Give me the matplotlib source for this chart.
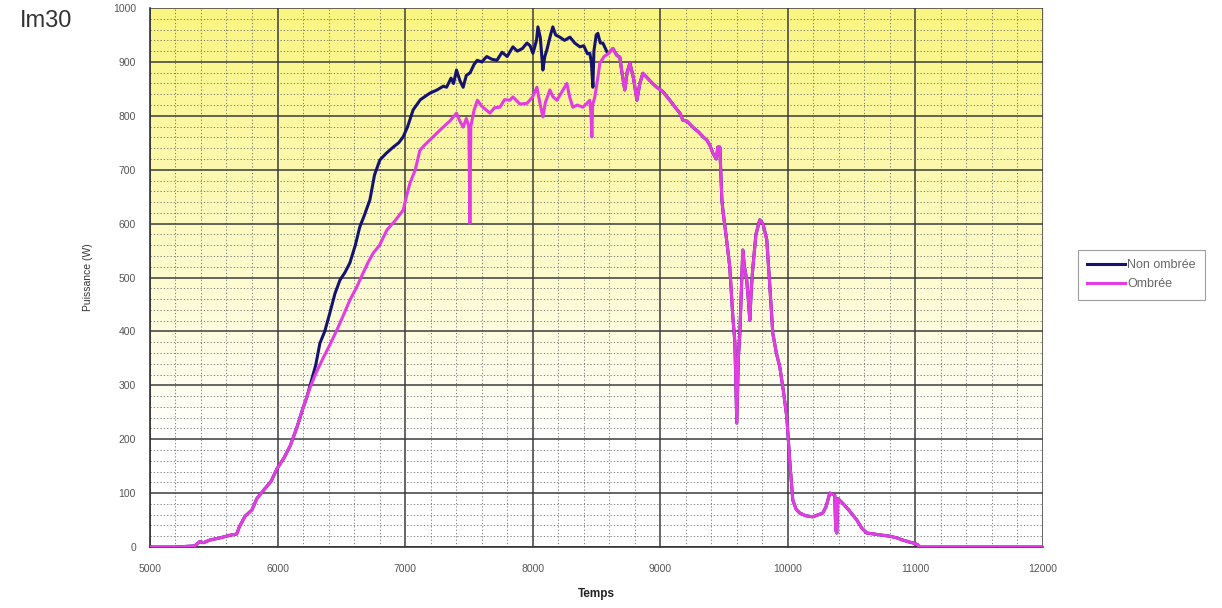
import matplotlib
matplotlib.use('Agg')
from matplotlib import pyplot as plt
from matplotlib.ticker import MultipleLocator
import numpy as np

plt.rcParams['font.family'] = ['Liberation Sans', 'DejaVu Sans']

# common start (both curves identical)
rise_t = [5000, 5200, 5350, 5390, 5420, 5470, 5550, 5630, 5680, 5700, 5745, 5800,
          5838, 5900, 5950, 5995, 6050, 6100, 6152, 6200]
rise_p = [0, 0, 2, 10, 8, 13, 17, 22, 24, 37, 57, 69,
          90, 108, 122, 145, 165, 188, 222, 258]

# middle part, shaded panel
shade_t = [6254, 6300, 6356, 6410, 6466, 6520, 6567, 6620, 6670, 6710, 6749, 6800,
           6857, 6920, 6985, 7010, 7038, 7080, 7116, 7150, 7194, 7250, 7298, 7350,
           7403, 7430, 7455, 7480, 7500, 7508, 7515, 7540, 7567, 7600, 7630, 7665,
           7700, 7743, 7780, 7821, 7845, 7900, 7955, 8000, 8033, 8060, 8080, 8100,
           8135, 8160, 8190, 8230, 8268, 8290, 8315, 8350, 8393, 8420, 8448, 8458,
           8464, 8470, 8487, 8510, 8527, 8560]
shade_p = [295, 322, 350, 375, 403, 432, 458, 482, 508, 528, 545, 560,
           588, 605, 625, 650, 675, 700, 736, 745, 755, 768, 779, 790,
           805, 790, 779, 795, 780, 601, 780, 810, 829, 818, 812, 805,
           815, 816, 830, 829, 835, 822, 823, 835, 853, 820, 798, 825,
           848, 835, 829, 845, 860, 835, 816, 820, 816, 822, 829, 800,
           761, 820, 835, 870, 898, 910]

# middle part, unshaded panel
clear_t = [6230, 6300, 6332, 6370, 6410, 6450, 6489, 6530, 6567, 6610, 6645, 6680,
           6724, 6760, 6802, 6850, 6907, 6950, 6985, 7020, 7063, 7120, 7194, 7250,
           7300, 7325, 7360, 7380, 7403, 7430, 7455, 7480, 7510, 7540, 7565, 7600,
           7640, 7680, 7720, 7760, 7800, 7845, 7880, 7920, 7955, 7980, 8002, 8030,
           8041, 8060, 8080, 8095, 8111, 8140, 8158, 8180, 8213, 8250, 8292, 8330,
           8370, 8400, 8430, 8448, 8460, 8472, 8480, 8498, 8511, 8530, 8550, 8570]
clear_p = [278, 338, 378, 400, 434, 470, 495, 510, 527, 560, 594, 615,
           644, 690, 718, 730, 742, 750, 761, 780, 811, 830, 842, 848,
           855, 853, 870, 860, 885, 865, 853, 875, 880, 895, 903, 900,
           910, 905, 903, 918, 910, 928, 920, 925, 935, 930, 916, 940,
           965, 945, 885, 910, 922, 950, 965, 950, 946, 940, 946, 935,
           928, 930, 915, 916, 900, 853, 920, 950, 953, 935, 935, 925]

# common end (both curves identical)
fall_t = [8590, 8629, 8660, 8683, 8700, 8722, 8740, 8762, 8790, 8817, 8840, 8864,
          8900, 8940, 8973, 9020, 9075, 9120, 9154, 9177, 9210, 9255, 9300, 9340,
          9365, 9390, 9412, 9440, 9451, 9467, 9483, 9491, 9520, 9545, 9569, 9585,
          9600, 9612, 9624, 9636, 9647, 9660, 9678, 9690, 9702, 9714, 9726, 9750,
          9780, 9805, 9835, 9860, 9882, 9910, 9937, 9965, 9992, 10015, 10039, 10065,
          10094, 10140, 10196, 10240, 10274, 10300, 10329, 10350, 10368, 10375, 10384, 10392,
          10431, 10480, 10541, 10580, 10619, 10680, 10744, 10800, 10854, 10900, 10956, 10990,
          11019, 11030, 12000]
fall_p = [915, 925, 912, 909, 880, 848, 880, 898, 870, 829, 860, 879,
          870, 860, 853, 845, 829, 815, 805, 792, 790, 779, 770, 760,
          755, 745, 731, 720, 742, 742, 644, 625, 570, 519, 427, 380,
          230, 350, 397, 480, 551, 520, 495, 460, 421, 480, 519, 580,
          607, 600, 570, 480, 397, 360, 334, 290, 241, 160, 87, 70,
          63, 58, 56, 60, 63, 75, 100, 98, 96, 32, 26, 90,
          81, 68, 50, 35, 26, 24, 22, 20, 17, 13, 9, 7,
          4, 0, 0]

t_clear = rise_t + clear_t + fall_t
p_clear = rise_p + clear_p + fall_p
t_shade = rise_t + shade_t + fall_t
p_shade = rise_p + shade_p + fall_p

fig = plt.figure(figsize=(12.22, 6.08), dpi=100)
ax = fig.add_axes([0.1227, 0.1003, 0.7308, 0.8865])

# yellow to white background
frac = np.linspace(0, 1, 256)[:, None]
w = np.clip((frac - 0.2) / 0.8, 0, 1)
top = np.array([250, 245, 128]) / 255.0
grad = np.ones((256, 1, 3)) * (1 - w[..., None]) + top * w[..., None]
ax.imshow(grad, extent=[0, 1, 0, 1], origin='lower', transform=ax.transAxes,
          aspect='auto', zorder=0)

ax.set_xlim(5000, 12000)
ax.set_ylim(0, 1000)
ax.xaxis.set_major_locator(MultipleLocator(1000))
ax.xaxis.set_minor_locator(MultipleLocator(200))
ax.yaxis.set_major_locator(MultipleLocator(100))
ax.yaxis.set_minor_locator(MultipleLocator(20))
ax.grid(which='major', color='#3c3c3c', lw=1.1, zorder=1)
ax.grid(which='minor', color='#6a6a6a', lw=0.6, ls=(0, (1.5, 2.5)), zorder=1)
ax.set_axisbelow(True)

ax.plot(t_clear, p_clear, color='#141470', lw=2.2, label='Non ombrée', zorder=3)
ax.plot(t_shade, p_shade, color='#e23ce2', lw=2.2, label='Ombrée', zorder=4)

for s in ['top', 'right']:
    ax.spines[s].set_visible(False)
for s in ['left', 'bottom']:
    ax.spines[s].set_color('#333333')
    ax.spines[s].set_linewidth(1.2)

ax.tick_params(which='both', length=0, labelsize=7.5, labelcolor='#555555', pad=12)
ax.tick_params(axis='y', pad=10)
ax.set_xlabel('Temps', fontsize=8.5, fontweight='bold', color='#222222', labelpad=10)
ax.set_ylabel('Puissance (W)', fontsize=7.5, color='#333333', labelpad=14)

leg = fig.legend(loc='upper left', bbox_to_anchor=(0.882, 0.589), fontsize=9,
                 frameon=True, fancybox=False, edgecolor='#888888',
                 handlelength=3.0, borderpad=0.75, labelspacing=0.55,
                 handletextpad=0.2, borderaxespad=0)
for txt in leg.get_texts():
    txt.set_color('#666666')
leg.get_frame().set_linewidth(0.8)

fig.text(0.016, 0.955, 'Im30', fontsize=17, color='#333333')

fig.savefig('out.png', dpi=100)
